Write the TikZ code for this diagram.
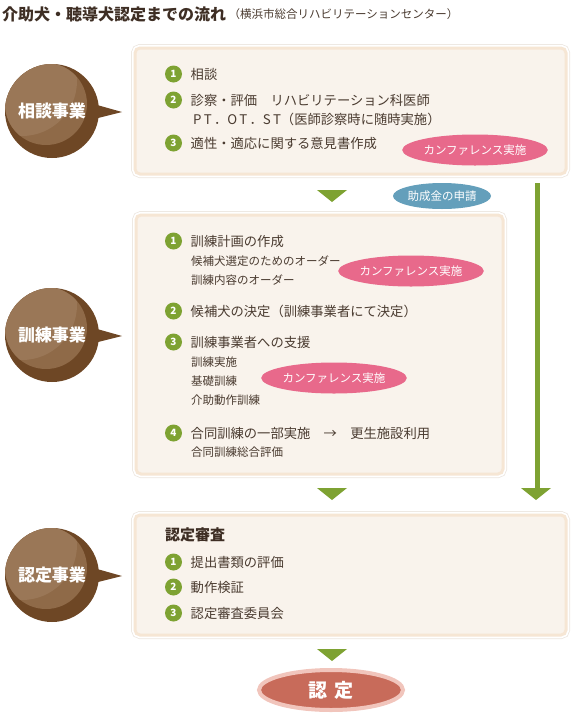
\documentclass[tikz,border=0pt]{standalone}
\usepackage{fontspec}
\setmainfont{Noto Sans CJK JP}
\usetikzlibrary{shapes.geometric,calc}
\definecolor{txt}{HTML}{4A3B30}
\definecolor{ttl}{HTML}{3E2E24}
\definecolor{grn}{HTML}{7EA232}
\definecolor{pnk}{HTML}{E8698B}
\definecolor{blu}{HTML}{649FBB}
\definecolor{brnD}{HTML}{6E4725}
\definecolor{brnL}{HTML}{8F6A48}
\definecolor{brnH}{HTML}{9A7757}
\definecolor{boxF}{HTML}{F9F3EC}
\definecolor{boxE}{HTML}{F6E6D4}
\definecolor{shd}{HTML}{ECE6E0}
\definecolor{finF}{HTML}{C86B5A}
\definecolor{finE}{HTML}{F1C5BC}
\tikzset{
  flowbox/.style={rectangle, rounded corners=5pt, fill=boxF, draw=boxE, line width=3pt, inner sep=0pt,
    preaction={draw=shd, line width=8pt, rounded corners=5pt},
    preaction={draw=white, line width=6.5pt, rounded corners=5pt}},
  numc/.style={circle, fill=grn, text=white, font=\bfseries\fontsize{10}{10}\selectfont, inner sep=0pt, minimum size=17pt},
  item/.style={anchor=west, text=txt, font=\fontsize{13.3}{13.3}\selectfont, inner sep=0pt},
  subitem/.style={anchor=west, text=txt, font=\fontsize{11.5}{11.5}\selectfont, inner sep=0pt},
  callout/.style={ellipse, fill=pnk, text=white, font=\fontsize{11.5}{11.5}\selectfont, minimum width=115pt, minimum height=31pt, inner sep=0pt},
  bizc/.style={circle, fill=brnD, text=white, font=\bfseries\fontsize{17}{17}\selectfont, minimum size=94pt, inner sep=0pt,
    path picture={\fill[brnL] ($(path picture bounding box.center)+(-6,-7)$) circle (41pt);
      \begin{scope}
        \clip ($(path picture bounding box.center)+(-6,-7)$) circle (41pt);
        \fill[brnH] ($(path picture bounding box.center)+(-30,-30)$) circle (55pt);
      \end{scope}}},
  gtri/.style={fill=grn},
}
\newcommand\downtri[2]{\fill[gtri] (#1-15,#2) -- (#1+15,#2) -- (#1,#2+12) -- cycle;}
\begin{document}
\begin{tikzpicture}[x=1pt,y=-1pt]
\useasboundingbox (0,0) rectangle (575,713);
% title
\node[anchor=west, inner sep=0pt, text=ttl, font=\bfseries\fontsize{16}{16}\selectfont] (title) at (2,14) {介助犬・聴導犬認定までの流れ};
\node[anchor=west, inner sep=0pt, text=txt, font=\fontsize{11.5}{11.5}\selectfont] (subtitle) at (title.east) {\,（横浜市総合リハビリテーションセンター）};

% boxes
\node[flowbox, minimum width=431pt, minimum height=126pt] (b1) at (350.5,111) {};
\node[flowbox, minimum width=367pt, minimum height=259pt] (b2) at (319.5,344.5) {};
\node[flowbox, minimum width=431pt, minimum height=120pt] (b3) at (350.5,575) {};

% business circles with pointers
\foreach \nm/\yy/\tx in {c1/111/相談事業, c2/335/訓練事業, c3/575/認定事業}{
  \fill[brnD] (90,\yy-8) -- (122,\yy+1) -- (90,\yy+9) -- cycle;
  \node[bizc] (\nm) at (52,\yy) {\tx};
}

% box 1 items
\node[numc] (n11) at (173.5,74) {1};
\node[item] (t11) at (190.5,74) {相談};
\node[numc] (n12) at (173.5,100) {2};
\node[item] (t12) at (190.5,100) {診察・評価　リハビリテーション科医師};
\node[item] (t12b) at (193,119) {P\,T\,．O\,T\,．S\,T（医師診察時に随時実施）};
\node[numc] (n13) at (173.5,143) {3};
\node[item] (t13) at (190.5,143) {適性・適応に関する意見書作成};
\fill[pnk] (413,149) -- (425,143) -- (425,155) -- cycle;
\node[callout] (cf1) at (475,150) {カンファレンス実施};

% between box1 and box2
\downtri{332}{190}
\node[ellipse, fill=blu, text=white, font=\fontsize{11.5}{11.5}\selectfont, minimum width=98pt, minimum height=26pt, inner sep=0pt] (josei) at (442,196) {助成金の申請};
\coordinate (gtop) at (537,183);
\coordinate (gend) at (537,488);
\draw[grn, line width=5pt] (gtop) -- (gend);
\downtri{536}{488}

% box 2 items
\node[numc] (n21) at (173.5,241) {1};
\node[item] (t21) at (190.5,241) {訓練計画の作成};
\node[subitem] (s211) at (191,261) {候補犬選定のためのオーダー};
\node[subitem] (s212) at (191,280) {訓練内容のオーダー};
\fill[pnk] (349,271) -- (361,265) -- (361,277) -- cycle;
\node[callout] (cf2) at (411,271) {カンファレンス実施};
\node[numc] (n22) at (173.5,311) {2};
\node[item] (t22) at (190.5,311) {候補犬の決定（訓練事業者にて決定）};
\node[numc] (n23) at (173.5,342) {3};
\node[item] (t23) at (190.5,342) {訓練事業者への支援};
\node[subitem] (s231) at (191,362) {訓練実施};
\node[subitem] (s232) at (191,381) {基礎訓練};
\node[subitem] (s233) at (191,400) {介助動作訓練};
\fill[pnk] (272,378) -- (284,372) -- (284,384) -- cycle;
\node[callout] (cf3) at (334,378) {カンファレンス実施};
\node[numc] (n24) at (173.5,433) {4};
\node[item] (t24) at (190.5,433) {合同訓練の一部実施　→　更生施設利用};
\node[subitem] (s241) at (191,452) {合同訓練総合評価};

\downtri{332}{488}

% box 3 items
\node[anchor=west, inner sep=0pt, text=ttl, font=\bfseries\fontsize{15}{15}\selectfont] (t30) at (165,535) {認定審査};
\node[numc] (n31) at (173.5,562) {1};
\node[item] (t31) at (190.5,562) {提出書類の評価};
\node[numc] (n32) at (173.5,587) {2};
\node[item] (t32) at (190.5,587) {動作検証};
\node[numc] (n33) at (173.5,613) {3};
\node[item] (t33) at (190.5,613) {認定審査委員会};

\downtri{332}{649}

% final
\node[ellipse, fill=finF, draw=finE, line width=4pt, text=white, font=\bfseries\fontsize{19}{19}\selectfont, minimum width=144pt, minimum height=40pt, inner sep=0pt] (final) at (331,690) {認\hspace{0.35em}定};
\end{tikzpicture}
\end{document}
